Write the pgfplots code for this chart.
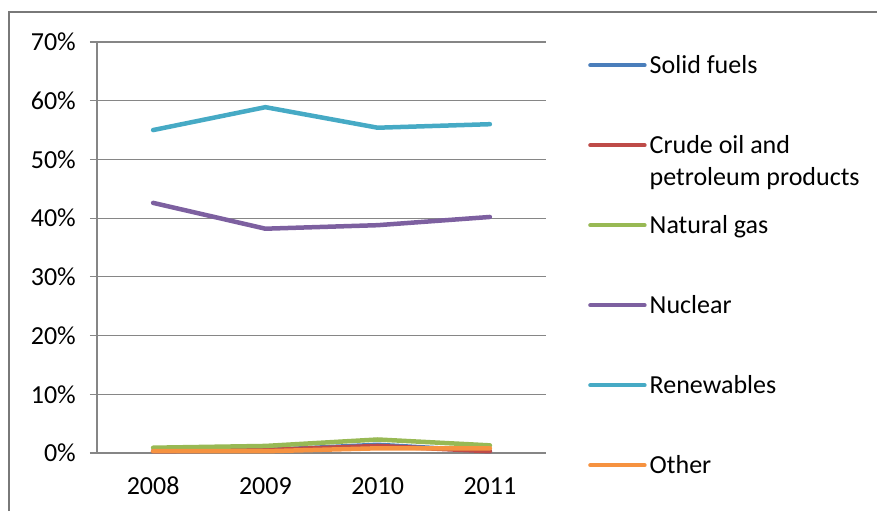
\documentclass[border=0pt]{standalone}
\usepackage{pgfplots}
\pgfplotsset{compat=1.18}
\usepackage{fontspec}
\setmainfont{Carlito}
\definecolor{cSolid}{HTML}{4A7EBB}
\definecolor{cCrude}{HTML}{BE4B48}
\definecolor{cGas}{HTML}{98B954}
\definecolor{cNuc}{HTML}{7D60A0}
\definecolor{cRen}{HTML}{46AAC5}
\definecolor{cOth}{HTML}{F69240}
\definecolor{gridc}{HTML}{868686}
\begin{document}
\begin{tikzpicture}
\useasboundingbox (0pt,0pt) rectangle (877pt,511pt);
\draw[color=gridc!90!black, line width=2pt] (9pt,0pt) -- (9pt,499pt) -- (877pt,499pt);
\begin{axis}[
  at={(97pt,58pt)}, anchor=south west,
  scale only axis, width=449pt, height=411pt,
  xmin=-0.5, xmax=3.5, ymin=0, ymax=70,
  axis lines=left, axis line style={-, color=gridc, line width=1.2pt},
  xtick={0,1,2,3}, xticklabels={2008,2009,2010,2011},
  minor xtick={-0.5,0.5,1.5,2.5,3.5},
  ytick={0,10,20,30,40,50,60,70},
  yticklabel={\pgfmathprintnumber{\tick}\%},
  ymajorgrids, grid style={color=gridc, line width=1.2pt},
  tick align=outside,
  x tick style={draw=none},
  minor x tick style={color=gridc, line width=1.2pt},
  minor tick length=9pt,
  y tick style={color=gridc, line width=1.2pt},
  major tick length=7pt,
  tick label style={font=\fontsize{26}{31}\selectfont, inner sep=0pt},
  /pgf/number format/assume math mode=true,
  yticklabel style={xshift=-14pt},
  xticklabel style={yshift=-17pt},
  legend style={at={(axis description cs:1,1)}, anchor=north west,
    xshift=42pt, yshift=-13pt, draw=none, fill=none, inner sep=0pt,
    row sep=60pt, column sep=3pt,
    font=\fontsize{26}{32}\selectfont,
    nodes={inner sep=0pt, text height=18pt, text depth=2pt}},
  legend cell align=left,
  legend image code/.code={\draw[#1, line width=4.5pt, line cap=round] (0pt,0pt) -- (54pt,0pt);},
  every axis plot/.append style={line width=4.5pt, line join=round, line cap=round, mark=none},
]
\addplot[cSolid] coordinates {(0,0.3) (1,0.5) (2,1.4) (3,0.3)};
\addlegendentry{Solid fuels}
\addplot[cCrude] coordinates {(0,0.3) (1,0.5) (2,1.2) (3,0.3)};
\addlegendentry{\smash{\begin{tabular}[t]{@{}l@{}}Crude oil and\\petroleum products\end{tabular}}}
\addplot[cGas] coordinates {(0,0.9) (1,1.2) (2,2.3) (3,1.3)};
\addlegendentry{Natural gas}
\addplot[cNuc] coordinates {(0,42.6) (1,38.2) (2,38.8) (3,40.2)};
\addlegendentry{Nuclear}
\addplot[cRen] coordinates {(0,55.0) (1,58.9) (2,55.4) (3,56.0)};
\addlegendentry{Renewables}
\addplot[cOth] coordinates {(0,0.3) (1,0.3) (2,0.8) (3,0.8)};
\addlegendentry{Other}
\end{axis}
\end{tikzpicture}
\end{document}
